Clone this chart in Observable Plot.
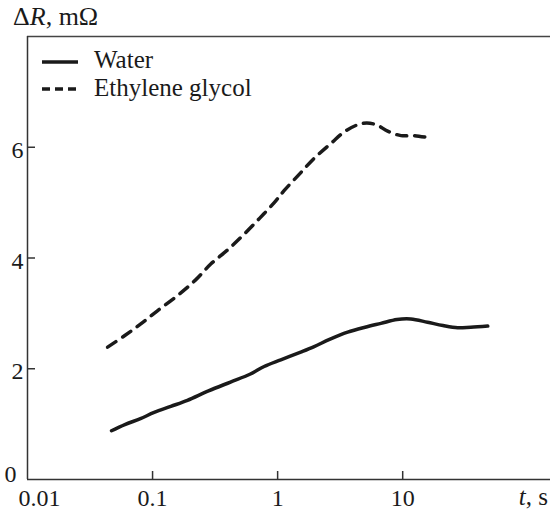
<!DOCTYPE html>
<html><head><meta charset="utf-8">
<script src="https://cdn.jsdelivr.net/npm/d3@7"></script>
<script src="https://cdn.jsdelivr.net/npm/@observablehq/plot@0.6"></script>
<style>
body{margin:0;background:#fff;}
#wrap{position:relative;width:550px;height:514px;font-family:"Liberation Serif","Times New Roman",serif;}
#wrap svg{position:absolute;left:0;top:0;}
</style></head><body><div id="wrap"></div>
<script>
// Data (t in seconds, ΔR in mΩ)
const waterT = [0.047, 0.06, 0.08, 0.103, 0.14, 0.19, 0.28, 0.42, 0.6, 0.78, 1.06, 1.53, 1.96, 2.6, 3.63, 5, 6.7, 9, 11.6, 15.8, 21, 27.5, 35, 47.9];
const waterR = [0.88, 0.99, 1.1, 1.21, 1.32, 1.43, 1.6, 1.76, 1.9, 2.04, 2.16, 2.3, 2.4, 2.53, 2.66, 2.75, 2.82, 2.89, 2.9, 2.84, 2.78, 2.74, 2.75, 2.77];
const glycolT = [0.0437, 0.06, 0.0805, 0.11, 0.158, 0.22, 0.292, 0.4, 0.54, 0.72, 0.94, 1.13, 1.5, 1.96, 2.67, 3.52, 4.78, 6.1, 7.58, 9.7, 12.4, 16.3];
const glycolR = [2.39, 2.6, 2.81, 3.05, 3.32, 3.6, 3.89, 4.15, 4.43, 4.72, 5.0, 5.22, 5.52, 5.8, 6.07, 6.3, 6.43, 6.41, 6.29, 6.21, 6.21, 6.17];
const seriesNames = ["Water", "Ethylene glycol"];
const xTicks = [0.01, 0.1, 1, 10];
const yTicks = [0, 2, 4, 6];
const xTitle = ["t", ", s"];
const yTitle = ["Δ", "R", ", mΩ"];

const water = waterT.map((t, i) => ({t, r: waterR[i]}));
const glycol = glycolT.map((t, i) => ({t, r: glycolR[i]}));

const FONT = "Liberation Serif";
const FS = 24;   // tick labels
const FL = 25;   // legend and titles
const ink = "#1a1a1a";

const W = 550, H = 514, ML = 27, MR = 0, MT = 36, MB = 35;
const TICK = 8;
const innerW = W - ML - MR, innerH = H - MT - MB;

const plot = Plot.plot({
  width: W, height: H,
  marginLeft: ML, marginRight: MR, marginTop: MT, marginBottom: MB,
  style: {fontFamily: FONT, fontSize: FS + "px", color: ink, background: "transparent", overflow: "visible"},
  x: {type: "log", domain: [0.01, 152]},
  y: {domain: [0, 8]},
  marks: [
    Plot.ruleY([8], {stroke: "#444", strokeWidth: 1.5}),
    Plot.ruleY([0], {stroke: "#333", strokeWidth: 1.5}),
    Plot.ruleX([0.01], {stroke: "#333", strokeWidth: 1.5}),
    // inward ticks (short full-frame ticks trimmed by insets)
    Plot.tickX(xTicks.slice(1), {x: d => d, insetTop: innerH - TICK, stroke: "#333", strokeWidth: 1.5}),
    Plot.tickY(yTicks.slice(1), {y: d => d, insetRight: innerW - TICK, stroke: "#333", strokeWidth: 1.5}),
    Plot.axisX(xTicks.slice(1), {tickSize: 0, tickPadding: 9, tickFormat: d => String(d), label: null, fontSize: FS, fill: ink}),
    Plot.axisX(xTicks.slice(0, 1), {tickSize: 0, tickPadding: 9, dx: 12, tickFormat: d => String(d), label: null, fontSize: FS, fill: ink}),
    Plot.axisY(yTicks.slice(1), {tickSize: 0, tickPadding: 4, dy: 3, tickFormat: d => String(d), label: null, fontSize: FS, fill: ink}),
    Plot.axisY(yTicks.slice(0, 1), {tickSize: 0, tickPadding: 11, dy: -5, tickFormat: d => String(d), label: null, fontSize: FS, fill: ink}),
    Plot.line(water, {x: "t", y: "r", stroke: ink, strokeWidth: 3.5, curve: "catmull-rom"}),
    Plot.line(glycol, {x: "t", y: "r", stroke: ink, strokeWidth: 3.5, strokeDasharray: "10,8", curve: "catmull-rom"})
  ]
});

const wrap = document.getElementById("wrap");
wrap.appendChild(plot);

// Overlay: axis titles and legend
const ov = d3.select(wrap).append("svg").attr("width", W).attr("height", H)
  .style("font-family", FONT).style("font-size", FL + "px").attr("fill", ink);

const yt = ov.append("text").attr("x", 13).attr("y", 25).style("font-size", "26px");
yt.append("tspan").text(yTitle[0]);
yt.append("tspan").attr("font-style", "italic").text(yTitle[1]);
yt.append("tspan").text(yTitle[2]);

const xt = ov.append("text").attr("x", 548).attr("y", 505).attr("text-anchor", "end");
xt.append("tspan").attr("font-style", "italic").text(xTitle[0]);
xt.append("tspan").text(xTitle[1]);

const lg = ov.append("g");
lg.append("line").attr("x1", 42).attr("x2", 78).attr("y1", 62).attr("y2", 62)
  .attr("stroke", ink).attr("stroke-width", 3.5);
lg.append("text").attr("x", 94).attr("y", 68).text(seriesNames[0]);
lg.append("line").attr("x1", 42).attr("x2", 78).attr("y1", 89).attr("y2", 89)
  .attr("stroke", ink).attr("stroke-width", 3.5).attr("stroke-dasharray", "8,5");
lg.append("text").attr("x", 94).attr("y", 96).text(seriesNames[1]);
</script>
</body></html>
